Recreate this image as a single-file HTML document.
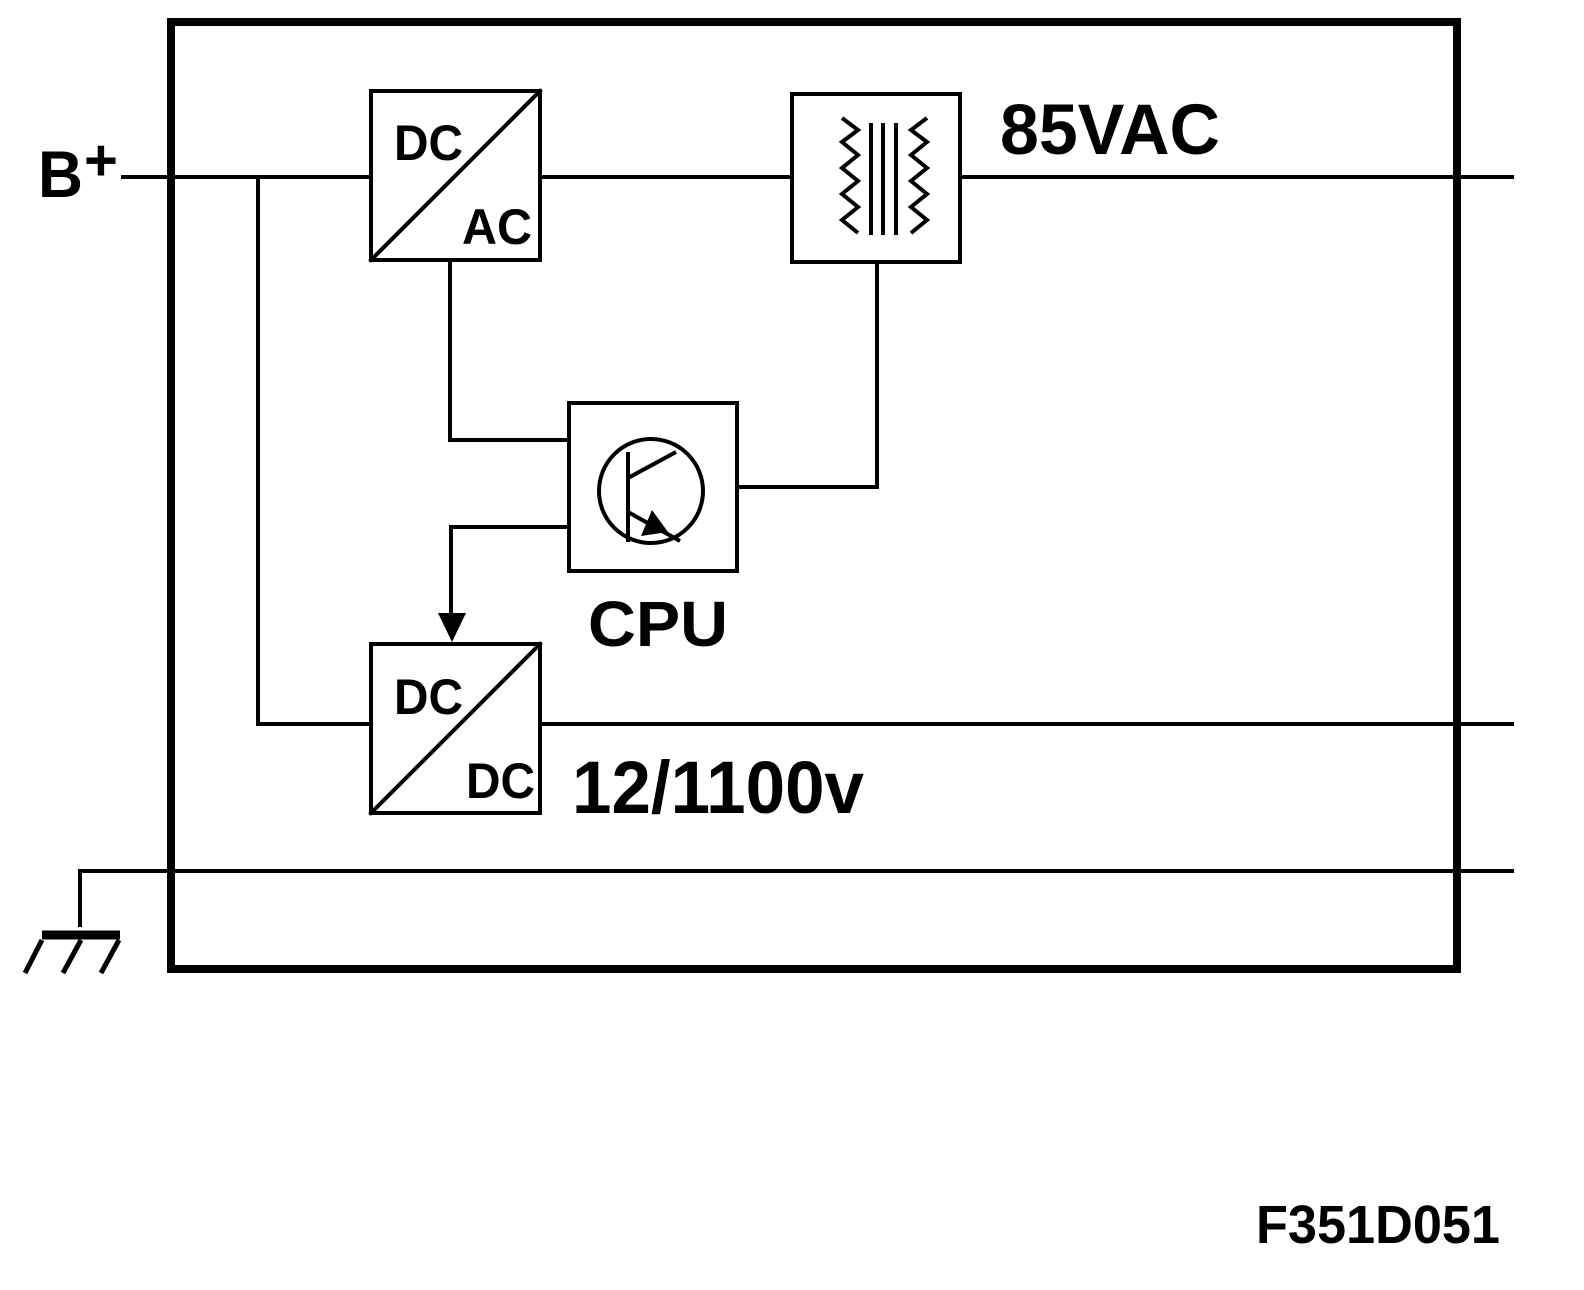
<!DOCTYPE html>
<html><head><meta charset="utf-8"><style>
html,body{margin:0;padding:0;background:#fff;}
svg{display:block;}
text{font-family:"Liberation Sans",sans-serif;font-weight:bold;fill:#000;}
</style></head><body>
<svg width="1584" height="1290" viewBox="0 0 1584 1290" xmlns="http://www.w3.org/2000/svg">
<g fill="none" stroke="#000" stroke-linecap="square">
<rect x="171" y="22" width="1286" height="947" stroke-width="8"/>
<path d="M123 177 H370 M540 177 H791 M960 177 H1512" stroke-width="4"/>
<path d="M540 724 H1512 M258 177 V724 H370" stroke-width="4"/>
<path d="M80 925 V871 H1512" stroke-width="4"/>
<path d="M450 260 V440 H568 M568 527 H451 V615 M877 262 V487 H738" stroke-width="4"/>
<rect x="371" y="91" width="169" height="169" stroke-width="4"/>
<path d="M371 260 L540 91" stroke-width="4"/>
<rect x="792" y="94" width="168" height="168" stroke-width="4"/>
<rect x="569" y="403" width="168" height="168" stroke-width="4"/>
<rect x="371" y="644" width="169" height="169" stroke-width="4"/>
<path d="M371 813 L540 644" stroke-width="4"/>
<path d="M842 118 L858 130 L842 142 L858 155 L842 168 L858 181 L842 194 L858 207 L842 220 L858 233" stroke-width="4" stroke-linecap="butt"/>
<path d="M927 118 L911 130 L927 142 L911 155 L927 168 L911 181 L927 194 L911 207 L927 220 L911 233" stroke-width="4" stroke-linecap="butt"/>
<path d="M871 123 V235 M883 123 V235 M896 123 V235" stroke-width="4" stroke-linecap="butt"/>
<circle cx="651" cy="491" r="52" stroke-width="4"/>
<path d="M628 452 V542 M628 478 L676 452 M628 512 L680 541" stroke-width="4" stroke-linecap="butt"/>
<path d="M42 935 H120" stroke-width="9" stroke-linecap="butt"/>
<path d="M42 940 L25 973 M81 940 L63 973 M119 940 L101 973" stroke-width="5" stroke-linecap="butt"/>
</g>
<polygon points="652,510 641,536 668,532" fill="#000"/>
<polygon points="438,613 466,613 452,642" fill="#000"/>
<text x="394" y="160" font-size="50" textLength="69" lengthAdjust="spacingAndGlyphs">DC</text>
<text x="462" y="244" font-size="50" textLength="70" lengthAdjust="spacingAndGlyphs">AC</text>
<text x="394" y="714" font-size="50" textLength="69" lengthAdjust="spacingAndGlyphs">DC</text>
<text x="466" y="798" font-size="50" textLength="69" lengthAdjust="spacingAndGlyphs">DC</text>
<text x="1000" y="154" font-size="71" textLength="220" lengthAdjust="spacingAndGlyphs">85VAC</text>
<text x="38" y="197" font-size="66" textLength="45" lengthAdjust="spacingAndGlyphs">B</text>
<text x="84" y="180" font-size="58">+</text>
<text x="588" y="646" font-size="64" textLength="140" lengthAdjust="spacingAndGlyphs">CPU</text>
<text x="572" y="813" font-size="74" textLength="292" lengthAdjust="spacingAndGlyphs">12/1100v</text>
<text x="1256" y="1243" font-size="54" textLength="244" lengthAdjust="spacingAndGlyphs">F351D051</text>
</svg>
</body></html>
